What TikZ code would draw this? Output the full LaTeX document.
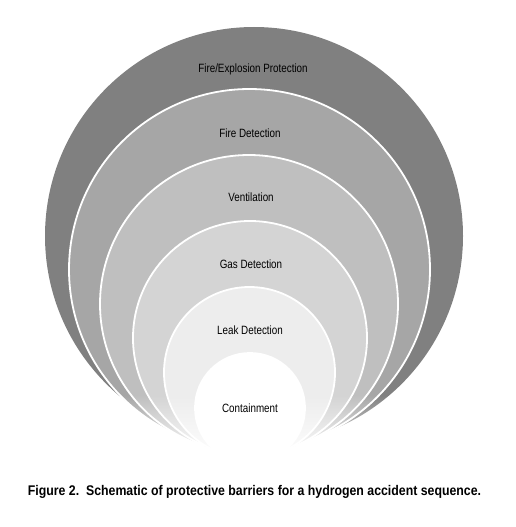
\documentclass[tikz,border=0pt]{standalone}
\usepackage{fontspec}
\setmainfont{Liberation Sans}
\usepackage{graphicx}
\usetikzlibrary{fadings}
\newcommand{\squeeze}[2]{\scalebox{#1}[1]{#2}}
\tikzset{
    %Define style for the barrier rings
    ring/.style={
           fill = #1,
           draw = white, line width = 1.8pt},
    %Define style for the ring labels
    lbl/.style={
           anchor = base,
           font = \fontsize{12}{14}\selectfont},
    %Define style for the caption
    capt/.style={
           anchor = base,
           font = \fontsize{14}{16}\selectfont\bfseries}
}
\begin{document}
\begin{tikzpicture}[x=1pt, y=-1pt]
\useasboundingbox (0,0) rectangle (516,527);
 %rings, outermost first
\fill[black!50] (254,236) circle (209pt);
\path[ring=black!35] (249.5,269.5) circle (180.5pt);
\path[ring=black!25] (249,304) circle (149pt);
\path[ring=black!17] (250,338) circle (117pt);
\path[ring=black!7] (249.5,372.5) circle (85.5pt);
\path[ring=white] (250,408) circle (55pt);
 %fade the rings out at the bottom
\fill[white, path fading=north] (20,395) rectangle (490,462);
\fill[white] (20,462) rectangle (490,470);
 %labels
\node[lbl] (fireexp) at (253,73) {\squeeze{0.82}{Fire/Explosion Protection}};
\node[lbl] (firedet) at (250,137.5) {\squeeze{0.82}{Fire Detection}};
\node[lbl] (vent) at (251,201.7) {\squeeze{0.82}{Ventilation}};
\node[lbl] (gasdet) at (251,268.5) {\squeeze{0.82}{Gas Detection}};
\node[lbl] (leakdet) at (250,334.5) {\squeeze{0.82}{Leak Detection}};
\node[lbl] (contain) at (250,412) {\squeeze{0.82}{Containment}};
 %caption
\node[capt] (caption) at (254.5,495) {\squeeze{0.88}{Figure 2.\ \ Schematic of protective barriers for a hydrogen accident sequence.}};
\end{tikzpicture}
\end{document}
